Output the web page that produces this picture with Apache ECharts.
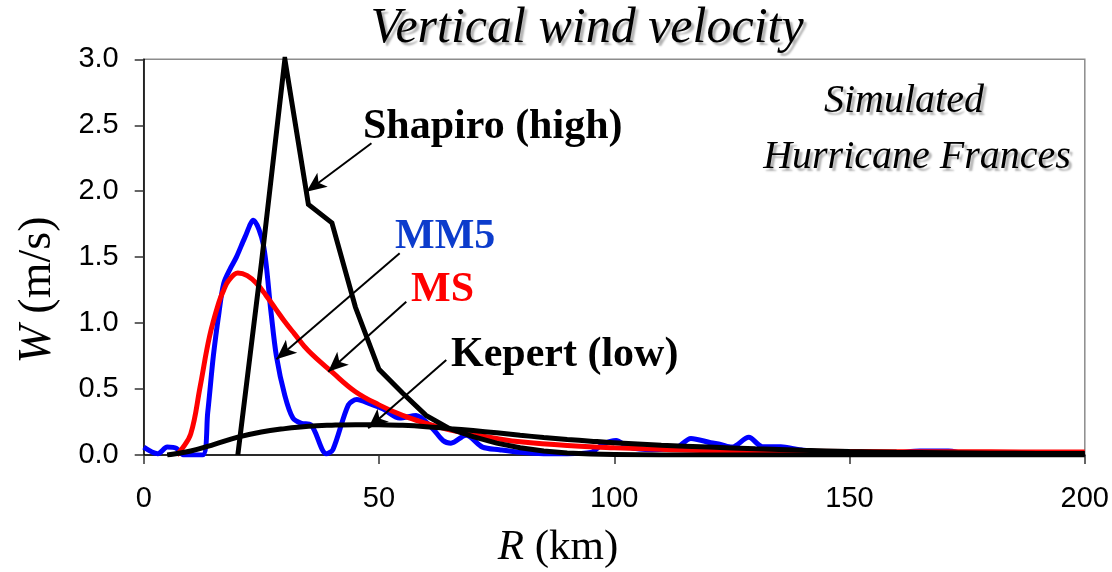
<!DOCTYPE html>
<html>
<head>
<meta charset="utf-8">
<script src="https://cdn.jsdelivr.net/npm/echarts@6/dist/echarts.min.js"></script>
<style>
  html, body { margin: 0; padding: 0; background: #fff; }
  #main { width: 1112px; height: 572px; }
</style>
</head>
<body>
<div id="main"></div>
<script>
// R (km) and W (m/s)
var mm5R = [0, 3, 5, 7, 8.5, 12.5, 13.6, 14.8, 16, 17, 18.5, 19.7, 21.5, 23.3, 25.4, 27, 28.2, 30, 31.7, 33.5, 35.5, 38.8, 40.2, 43.5, 45.3, 48, 50.8, 54.4, 57.9, 61.4, 63.6, 65.3, 68.5, 72, 75.6, 80, 85, 90, 95, 97.5, 100.4, 103, 108, 113, 116.3, 120.5, 122.6, 125, 128.6, 131.5, 135.4, 139.3, 145, 150, 155, 160, 165, 171, 175, 185, 200];
var mm5W = [0.06, 0.01, 0.06, 0.05, 0.0, 0.0, 0.32, 0.75, 1.08, 1.30, 1.42, 1.50, 1.65, 1.78, 1.60, 1.10, 0.75, 0.45, 0.28, 0.24, 0.23, 0.01, 0.04, 0.38, 0.42, 0.39, 0.35, 0.28, 0.30, 0.20, 0.11, 0.09, 0.15, 0.06, 0.04, 0.02, 0.01, 0.01, 0.02, 0.08, 0.11, 0.06, 0.04, 0.05, 0.126, 0.093, 0.08, 0.06, 0.134, 0.063, 0.063, 0.04, 0.02, 0.015, 0.01, 0.015, 0.03, 0.03, 0.01, 0.01, 0.01];

var msR = [7, 8, 10, 12, 14, 16, 17, 18, 20, 22, 24, 26, 28, 30, 32, 35, 40, 45, 50, 55, 60, 65, 70, 75, 80, 90, 100, 110, 120, 140, 160, 180, 200];
var msW = [0.0, 0.04, 0.16, 0.52, 0.90, 1.16, 1.25, 1.32, 1.38, 1.36, 1.30, 1.21, 1.11, 1.01, 0.92, 0.79, 0.63, 0.48, 0.38, 0.30, 0.24, 0.19, 0.155, 0.125, 0.10, 0.072, 0.055, 0.043, 0.034, 0.028, 0.025, 0.024, 0.023];

var shapiroR = [20, 25, 30, 35, 40, 45, 50, 55, 60, 65, 70, 75, 80, 85, 90, 95, 100, 110, 200];
var shapiroW = [0.0, 1.45, 3.0, 1.90, 1.76, 1.12, 0.65, 0.47, 0.30, 0.20, 0.14, 0.09, 0.055, 0.03, 0.015, 0.008, 0.004, 0.0, 0.0];

var kepertR = [5, 10, 15, 20, 25, 30, 35, 40, 45, 50, 55, 60, 65, 70, 75, 80, 85, 90, 95, 100, 110, 120, 130, 140, 150, 160, 170, 180, 190, 200];
var kepertW = [0.0, 0.03, 0.08, 0.135, 0.175, 0.20, 0.218, 0.226, 0.23, 0.23, 0.225, 0.215, 0.20, 0.185, 0.168, 0.15, 0.133, 0.118, 0.105, 0.093, 0.074, 0.06, 0.047, 0.036, 0.027, 0.021, 0.017, 0.014, 0.012, 0.011];

var xTicks = [0, 50, 100, 150, 200];
var yTicks = [0, 0.5, 1.0, 1.5, 2.0, 2.5, 3.0];

// label arrows: [from R, from W, to R, to W]
var arrowShapiro = [48.4, 2.363, 34.6, 1.996];
var arrowMM5 = [54.4, 1.529, 28.2, 0.726];
var arrowMS = [55.8, 1.162, 39.2, 0.632];
var arrowKepert = [64.3, 0.720, 47.7, 0.202];

function pairs(r, w) {
  var out = [];
  for (var i = 0; i < r.length; i++) out.push([r[i], w[i]]);
  return out;
}
function arrow(a) {
  return [{ coord: [a[0], a[1]] }, { coord: [a[2], a[3]] }];
}

var serif = 'Liberation Serif';
var sans = 'Liberation Sans';
var shadow = { textShadowColor: 'rgba(0,0,0,0.3)', textShadowOffsetX: 3, textShadowOffsetY: 3, textShadowBlur: 2 };

var chart = echarts.init(document.getElementById('main'));

var option = {
  animation: false,
  backgroundColor: '#fff',
  grid: {
    left: 143.7, right: 25.7, top: 59.3, bottom: 117,
    show: true, borderColor: '#8c8c8c', borderWidth: 1.5
  },
  xAxis: {
    type: 'value', min: 0, max: 200, interval: 50,
    axisLine: { show: true, onZero: false, lineStyle: { color: '#000', width: 1.5 } },
    axisTick: { show: true, inside: false, length: 9, lineStyle: { color: '#333', width: 1.5 } },
    axisLabel: {
      margin: 29, color: '#000', fontFamily: sans, fontSize: 29,
      formatter: function (v) { return xTicks.indexOf(v) >= 0 ? String(v) : ''; }
    },
    splitLine: { show: false }
  },
  yAxis: {
    type: 'value', min: 0, max: 3, interval: 0.5,
    axisLine: { show: true, onZero: false, lineStyle: { color: '#000', width: 1.5 } },
    axisTick: { show: true, inside: false, length: 9, lineStyle: { color: '#333', width: 1.5 } },
    axisLabel: {
      margin: 25, color: '#000', fontFamily: sans, fontSize: 29,
      formatter: function (v) { return yTicks.indexOf(v) >= 0 ? v.toFixed(1) : ''; }
    },
    splitLine: { show: false }
  },
  series: [
    {
      name: 'MM5', type: 'line', data: pairs(mm5R, mm5W), showSymbol: false,
      smooth: 0.3, lineStyle: { color: '#0000ff', width: 5 }, z: 2
    },
    {
      name: 'MS', type: 'line', data: pairs(msR, msW), showSymbol: false,
      smooth: 0.4, lineStyle: { color: '#ff0000', width: 5 }, z: 3
    },
    {
      name: 'Shapiro (high)', type: 'line', data: pairs(shapiroR, shapiroW), showSymbol: false,
      lineStyle: { color: '#000', width: 5, join: 'miter' }, z: 4
    },
    {
      name: 'Kepert (low)', type: 'line', data: pairs(kepertR, kepertW), showSymbol: false,
      smooth: 0.4, lineStyle: { color: '#000', width: 5 }, z: 5,
      markLine: {
        silent: true, animation: false,
        symbol: ['none', 'arrow'], symbolSize: [13, 20],
        label: { show: false },
        lineStyle: { color: '#000', width: 2, type: 'solid' },
        emphasis: { disabled: true },
        data: [arrow(arrowShapiro), arrow(arrowMM5), arrow(arrowMS), arrow(arrowKepert)]
      }
    }
  ],
  graphic: [
    {
      type: 'text', x: 587, y: 29,
      style: Object.assign({
        text: 'Vertical wind velocity', fontFamily: serif, fontStyle: 'italic', fontSize: 50,
        fill: '#000', align: 'center', verticalAlign: 'middle'
      }, shadow)
    },
    {
      type: 'text', x: 904, y: 101,
      style: Object.assign({
        text: 'Simulated', fontFamily: serif, fontStyle: 'italic', fontSize: 40, fill: '#000',
        align: 'center', verticalAlign: 'middle'
      }, shadow)
    },
    {
      type: 'text', x: 917, y: 157,
      style: Object.assign({
        text: 'Hurricane Frances', fontFamily: serif, fontStyle: 'italic', fontSize: 40, fill: '#000',
        align: 'center', verticalAlign: 'middle'
      }, shadow)
    },
    {
      type: 'text', x: 363, y: 127,
      style: { text: 'Shapiro (high)', fontFamily: serif, fontWeight: 'bold', fontSize: 42, fill: '#000', verticalAlign: 'middle' }
    },
    {
      type: 'text', x: 395, y: 237,
      style: { text: 'MM5', fontFamily: serif, fontWeight: 'bold', fontSize: 42, fill: '#0c3ccc', verticalAlign: 'middle' }
    },
    {
      type: 'text', x: 411, y: 290,
      style: { text: 'MS', fontFamily: serif, fontWeight: 'bold', fontSize: 42, fill: '#ff0000', verticalAlign: 'middle' }
    },
    {
      type: 'text', x: 451, y: 355,
      style: { text: 'Kepert (low)', fontFamily: serif, fontWeight: 'bold', fontSize: 42, fill: '#000', verticalAlign: 'middle' }
    },
    {
      type: 'text', x: 38, y: 290, rotation: Math.PI / 2,
      style: {
        text: '{i|W} (m/s)', fontFamily: serif, fontSize: 46, fill: '#000',
        align: 'center', verticalAlign: 'middle',
        rich: { i: { fontFamily: serif, fontStyle: 'italic', fontSize: 46, fill: '#000' } }
      }
    },
    {
      type: 'text', x: 558, y: 548,
      style: {
        text: '{i|R} (km)', fontFamily: serif, fontSize: 43, fill: '#000',
        align: 'center', verticalAlign: 'middle',
        rich: { i: { fontFamily: serif, fontStyle: 'italic', fontSize: 43, fill: '#000' } }
      }
    }
  ]
};

chart.setOption(option);
</script>
</body>
</html>
